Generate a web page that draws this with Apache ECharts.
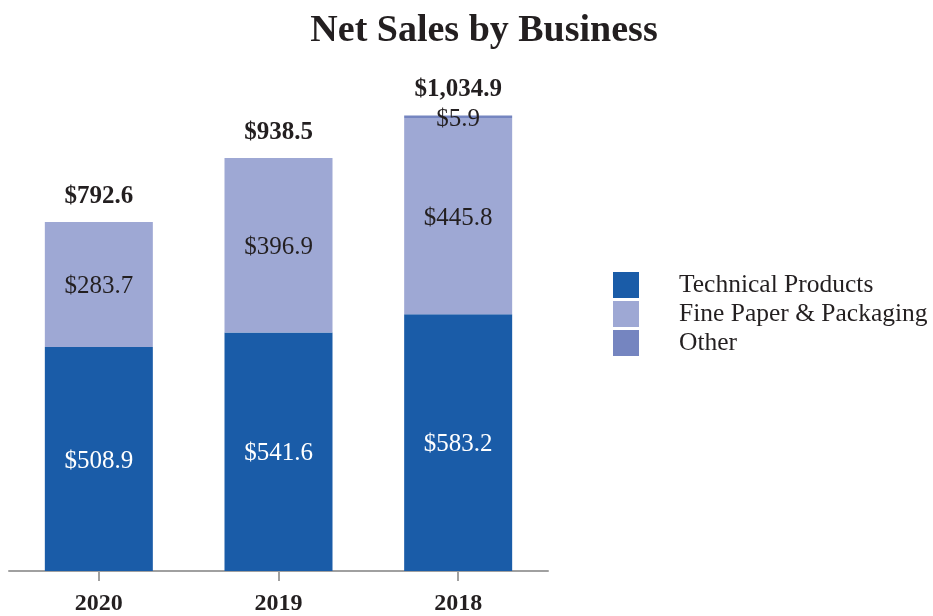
<!DOCTYPE html>
<html>
<head>
<meta charset="utf-8">
<script src="https://cdn.jsdelivr.net/npm/echarts@6/dist/echarts.min.js"></script>
<style>
  html, body { margin: 0; padding: 0; background: #fff; }
  #chart { width: 933px; height: 616px; }
</style>
</head>
<body>
<div id="chart"></div>
<script>
// data
var years = ['2020', '2019', '2018'];
var technical = [508.9, 541.6, 583.2];
var finePaper = [283.7, 396.9, 445.8];
var other = [0, 0, 5.9];
var totals = [792.6, 938.5, 1034.9];

var serif = '"Liberation Serif", "Times New Roman", serif';
var money = function (v) {
  return '$' + v.toLocaleString('en-US', { minimumFractionDigits: 1, maximumFractionDigits: 1 });
};

var chart = echarts.init(document.getElementById('chart'));
chart.setOption({
  animation: false,
  title: {
    text: 'Net Sales by Business',
    left: 479,
    textAlign: 'center',
    top: 7,
    textStyle: { fontFamily: serif, fontSize: 38, fontWeight: 'bold', color: '#231f20' }
  },
  legend: {
    orient: 'vertical',
    left: 608,
    top: 267,
    icon: 'rect',
    itemWidth: 26,
    itemHeight: 26,
    itemGap: 3,
    data: ['Technical Products', 'Fine Paper & Packaging', 'Other'],
    textStyle: { fontFamily: serif, fontSize: 25.5, color: '#231f20', padding: [6, 0, 0, 35] }
  },
  grid: { left: 9, right: 385, top: 100, bottom: 45 },
  xAxis: {
    type: 'category',
    data: years,
    axisLine: { lineStyle: { color: '#a0a0a0', width: 2 } },
    axisTick: { show: true, alignWithLabel: true, length: 10, lineStyle: { color: '#a0a0a0', width: 2 } },
    axisLabel: { fontFamily: serif, fontSize: 24, fontWeight: 'bold', color: '#231f20', margin: 21 }
  },
  yAxis: { type: 'value', min: 0, max: 1070, show: false, splitLine: { show: false } },
  series: [
    {
      name: 'Technical Products', type: 'bar', stack: 'sales', barWidth: 108,
      data: technical,
      itemStyle: { color: '#1a5ca8' },
      label: { show: true, position: 'inside', offset: [0, 2], formatter: function (p) { return money(p.value); },
        fontFamily: serif, fontSize: 25, color: '#ffffff' }
    },
    {
      name: 'Fine Paper & Packaging', type: 'bar', stack: 'sales', barWidth: 108,
      data: finePaper,
      itemStyle: { color: '#9ea8d4' },
      label: { show: true, position: 'inside', offset: [0, 2], formatter: function (p) { return money(p.value); },
        fontFamily: serif, fontSize: 25, color: '#231f20' }
    },
    {
      name: 'Other', type: 'bar', stack: 'sales', barWidth: 108,
      data: other,
      itemStyle: { color: '#7585c0' },
      label: { show: true, position: 'inside', offset: [0, 3],
        formatter: function (p) { return p.value ? money(p.value) : ''; },
        fontFamily: serif, fontSize: 25, color: '#231f20' }
    },
    {
      name: 'Total', type: 'bar', barWidth: 108, barGap: '-100%',
      data: totals,
      itemStyle: { color: 'rgba(0,0,0,0)' },
      z: 1,
      silent: true,
      label: { show: true, position: 'top', distance: 13, formatter: function (p) { return money(p.value); },
        fontFamily: serif, fontSize: 25, fontWeight: 'bold', color: '#231f20' }
    }
  ]
});
</script>
</body>
</html>
